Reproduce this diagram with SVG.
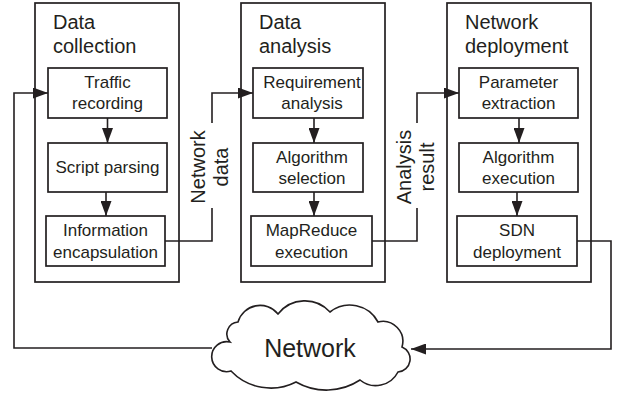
<svg xmlns="http://www.w3.org/2000/svg" width="626" height="394" viewBox="0 0 626 394">
  <style>
    .frame { fill: #ffffff; stroke: #231f20; stroke-width: 1.7; }
    .box { fill: #ffffff; stroke: #231f20; stroke-width: 1.7; }
    .title { font-family: "Liberation Sans", Arial, sans-serif; font-size: 20px; fill: #231f20; }
    .label { font-family: "Liberation Sans", Arial, sans-serif; font-size: 17px; fill: #231f20; text-anchor: middle; }
    .side { font-family: "Liberation Sans", Arial, sans-serif; font-size: 20px; fill: #231f20; text-anchor: middle; }
    .link { fill: none; stroke: #231f20; stroke-width: 1.6; }
    .cloudtext { font-family: "Liberation Sans", Arial, sans-serif; font-size: 25px; fill: #231f20; text-anchor: middle; }
  </style>
  <defs>
    <marker id="arrow" markerUnits="userSpaceOnUse" markerWidth="15" markerHeight="11" refX="15" refY="5.5" orient="auto">
      <path d="M0,0 L15,5.5 L0,11 z" fill="#231f20"/>
    </marker>
  </defs>

  <rect width="626" height="394" fill="#ffffff"/>

  <!-- stage 1 -->
  <g id="data-collection">
    <rect class="frame" x="35" y="3" width="144" height="279"/>
    <text class="title" x="53" y="29">Data</text>
    <text class="title" x="53" y="53">collection</text>
  </g>
  <g id="traffic-recording">
    <rect class="box" x="48" y="68" width="119" height="50"/>
    <text class="label" x="107.5" y="88">Traffic</text>
    <text class="label" x="107.5" y="109">recording</text>
  </g>
  <g id="script-parsing">
    <rect class="box" x="48" y="143" width="119" height="49"/>
    <text class="label" x="107.5" y="173">Script parsing</text>
  </g>
  <g id="information-encapsulation">
    <rect class="box" x="46" y="216" width="119" height="50"/>
    <text class="label" x="105.5" y="236">Information</text>
    <text class="label" x="105.5" y="258">encapsulation</text>
  </g>

  <!-- stage 2 -->
  <g id="data-analysis">
    <rect class="frame" x="241" y="3" width="144" height="279"/>
    <text class="title" x="259" y="29">Data</text>
    <text class="title" x="259" y="53">analysis</text>
  </g>
  <g id="requirement-analysis">
    <rect class="box" x="253" y="68" width="110" height="50"/>
    <text class="label" x="312" y="88">Requirement</text>
    <text class="label" x="312" y="109">analysis</text>
  </g>
  <g id="algorithm-selection">
    <rect class="box" x="253" y="143" width="110" height="49"/>
    <text class="label" x="312" y="163">Algorithm</text>
    <text class="label" x="312" y="184">selection</text>
  </g>
  <g id="mapreduce-execution">
    <rect class="box" x="251" y="216" width="121" height="50"/>
    <text class="label" x="311.5" y="236">MapReduce</text>
    <text class="label" x="311.5" y="258">execution</text>
  </g>

  <!-- stage 3 -->
  <g id="network-deployment">
    <rect class="frame" x="447" y="3" width="144" height="279"/>
    <text class="title" x="465" y="29">Network</text>
    <text class="title" x="465" y="53">deployment</text>
  </g>
  <g id="parameter-extraction">
    <rect class="box" x="459" y="68" width="119" height="50"/>
    <text class="label" x="518.5" y="88">Parameter</text>
    <text class="label" x="518.5" y="109">extraction</text>
  </g>
  <g id="algorithm-execution">
    <rect class="box" x="459" y="143" width="119" height="49"/>
    <text class="label" x="518.5" y="163">Algorithm</text>
    <text class="label" x="518.5" y="184">execution</text>
  </g>
  <g id="sdn-deployment">
    <rect class="box" x="457" y="216" width="120" height="50"/>
    <text class="label" x="517" y="236">SDN</text>
    <text class="label" x="517" y="258">deployment</text>
  </g>

  <!-- network cloud -->
  <g id="network">
    <path fill="#ffffff" stroke="#231f20" stroke-width="1.6" d="M231,371 A15,15 0 1 1 230,342 A12,12 0 0 1 238,322 A23,23 0 0 1 278,314 A34,34 0 0 1 330,312 A32,32 0 0 1 378,322 A20,20 0 0 1 402,347 A13,13 0 0 1 398,372 A25,25 0 0 1 360,380 A61,61 0 0 1 296,382 A55,55 0 0 1 231,371 Z"/>
    <text class="cloudtext" x="310" y="357">Network</text>
  </g>

  <!-- connectors -->
  <g id="connectors">
    <path class="link" d="M107.5,118 V143" marker-end="url(#arrow)"/>
    <path class="link" d="M106,192 V216" marker-end="url(#arrow)"/>
    <path class="link" d="M314,118 V143" marker-end="url(#arrow)"/>
    <path class="link" d="M314,192 V216" marker-end="url(#arrow)"/>
    <path class="link" d="M519,118 V143" marker-end="url(#arrow)"/>
    <path class="link" d="M517,192 V216" marker-end="url(#arrow)"/>

    <path class="link" d="M165,241 H212 V208"/>
    <path class="link" d="M212,123 V93 H253" marker-end="url(#arrow)"/>
    <g transform="translate(205,167) rotate(-90)">
      <text class="side" x="0" y="0">Network</text>
      <text class="side" x="0" y="23">data</text>
    </g>

    <path class="link" d="M372,241 H417 V208"/>
    <path class="link" d="M417,123 V93 H459" marker-end="url(#arrow)"/>
    <g transform="translate(411,167) rotate(-90)">
      <text class="side" x="0" y="0">Analysis</text>
      <text class="side" x="0" y="23">result</text>
    </g>

    <path class="link" d="M577,241 H611 V349 H411" marker-end="url(#arrow)"/>
    <path class="link" d="M212,348 H14 V93 H48" marker-end="url(#arrow)"/>
  </g>
</svg>
